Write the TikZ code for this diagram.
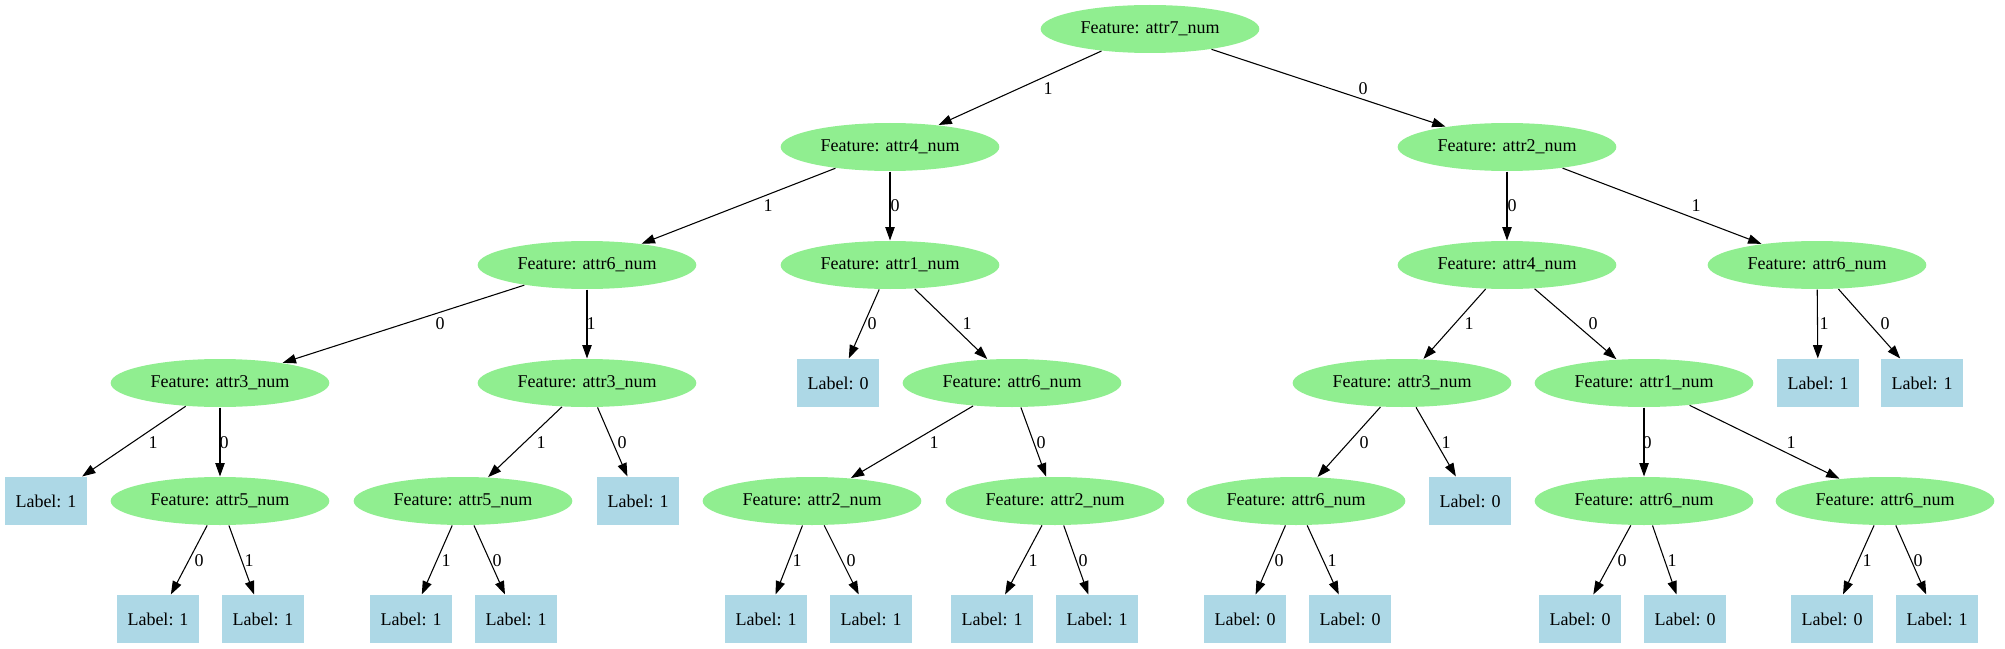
\documentclass[tikz,border=0pt]{standalone}
\usepackage{fontspec}
\setmainfont{Liberation Serif}
\usepackage{tikz}
\usetikzlibrary{shapes.geometric}
\usetikzlibrary{arrows.meta}

\definecolor{featgreen}{HTML}{90EE90}
\definecolor{leafblue}{HTML}{ADD8E6}

\begin{document}
\begin{tikzpicture}[x=0.75pt,y=-0.75pt,>={Triangle[length=10pt,width=7pt]},
    font=\fontsize{13.5}{16}\selectfont, line width=0.8pt,
    feat/.style={ellipse,fill=featgreen,minimum width=164pt,minimum height=36pt,inner sep=0pt},
    leaf/.style={rectangle,fill=leafblue,minimum width=61.5pt,minimum height=36pt,inner sep=0pt},
    lbl/.style={inner sep=0pt}]
    \useasboundingbox (0,0) rectangle (2005,649);

    % level 0 and 1
    \node (root) [feat] at (1150,29) {Feature: attr7\_num};
    \node (n1) [feat] at (890,147) {Feature: attr4\_num};
    \node (n0) [feat] at (1507,147) {Feature: attr2\_num};

    % level 2
    \node (n11) [feat] at (587,265) {Feature: attr6\_num};
    \node (n10) [feat] at (890,265) {Feature: attr1\_num};
    \node (n00) [feat] at (1507,265) {Feature: attr4\_num};
    \node (n01) [feat] at (1817,265) {Feature: attr6\_num};

    % level 3
    \node (n110) [feat] at (220,383) {Feature: attr3\_num};
    \node (n111) [feat] at (587,383) {Feature: attr3\_num};
    \node (n100) [leaf] at (838,383) {Label: 0};
    \node (n101) [feat] at (1012,383) {Feature: attr6\_num};
    \node (n001) [feat] at (1402,383) {Feature: attr3\_num};
    \node (n000) [feat] at (1644,383) {Feature: attr1\_num};
    \node (n011) [leaf] at (1818,383) {Label: 1};
    \node (n010) [leaf] at (1922,383) {Label: 1};

    % level 4
    \node (n1101) [leaf] at (46,501) {Label: 1};
    \node (n1100) [feat] at (220,501) {Feature: attr5\_num};
    \node (n1111) [feat] at (463,501) {Feature: attr5\_num};
    \node (n1110) [leaf] at (638,501) {Label: 1};
    \node (n1011) [feat] at (812,501) {Feature: attr2\_num};
    \node (n1010) [feat] at (1055,501) {Feature: attr2\_num};
    \node (n0010) [feat] at (1296,501) {Feature: attr6\_num};
    \node (n0011) [leaf] at (1470,501) {Label: 0};
    \node (n0000) [feat] at (1644,501) {Feature: attr6\_num};
    \node (n0001) [feat] at (1885,501) {Feature: attr6\_num};

    % level 5
    \node (n11000) [leaf] at (158,619) {Label: 1};
    \node (n11001) [leaf] at (263,619) {Label: 1};
    \node (n11111) [leaf] at (411,619) {Label: 1};
    \node (n11110) [leaf] at (516,619) {Label: 1};
    \node (n10111) [leaf] at (766,619) {Label: 1};
    \node (n10110) [leaf] at (871,619) {Label: 1};
    \node (n10101) [leaf] at (992,619) {Label: 1};
    \node (n10100) [leaf] at (1097,619) {Label: 1};
    \node (n00100) [leaf] at (1245,619) {Label: 0};
    \node (n00101) [leaf] at (1350,619) {Label: 0};
    \node (n00000) [leaf] at (1580,619) {Label: 0};
    \node (n00001) [leaf] at (1685,619) {Label: 0};
    \node (n00011) [leaf] at (1832,619) {Label: 0};
    \node (n00010) [leaf] at (1937,619) {Label: 1};

    \draw[->] (root) -- (n1) node[lbl] at (1048,89) {1};
    \draw[->] (root) -- (n0) node[lbl] at (1363,89) {0};
    \draw[->] (n1) -- (n11) node[lbl] at (768,206) {1};
    \draw[->] (n1) -- (n10) node[lbl] at (895,206) {0};
    \draw[->] (n0) -- (n00) node[lbl] at (1512,206) {0};
    \draw[->] (n0) -- (n01) node[lbl] at (1696,206) {1};

    \draw[->] (n11) -- (n110) node[lbl] at (440,324) {0};
    \draw[->] (n11) -- (n111) node[lbl] at (591,324) {1};
    \draw[->] (n10) -- (n100) node[lbl] at (872,324) {0};
    \draw[->] (n10) -- (n101) node[lbl] at (967,324) {1};
    \draw[->] (n00) -- (n001) node[lbl] at (1469,324) {1};
    \draw[->] (n00) -- (n000) node[lbl] at (1593,324) {0};
    \draw[->] (n01) -- (n011) node[lbl] at (1824,324) {1};
    \draw[->] (n01) -- (n010) node[lbl] at (1885,324) {0};

    \draw[->] (n110) -- (n1101) node[lbl] at (153,443) {1};
    \draw[->] (n110) -- (n1100) node[lbl] at (224,443) {0};
    \draw[->] (n111) -- (n1111) node[lbl] at (541,443) {1};
    \draw[->] (n111) -- (n1110) node[lbl] at (622,443) {0};
    \draw[->] (n101) -- (n1011) node[lbl] at (934,443) {1};
    \draw[->] (n101) -- (n1010) node[lbl] at (1041,443) {0};
    \draw[->] (n001) -- (n0010) node[lbl] at (1364,443) {0};
    \draw[->] (n001) -- (n0011) node[lbl] at (1446,443) {1};
    \draw[->] (n000) -- (n0000) node[lbl] at (1647,443) {0};
    \draw[->] (n000) -- (n0001) node[lbl] at (1791,443) {1};

    \draw[->] (n1100) -- (n11000) node[lbl] at (199,561) {0};
    \draw[->] (n1100) -- (n11001) node[lbl] at (249,561) {1};
    \draw[->] (n1111) -- (n11111) node[lbl] at (446,561) {1};
    \draw[->] (n1111) -- (n11110) node[lbl] at (497,561) {0};
    \draw[->] (n1011) -- (n10111) node[lbl] at (797,561) {1};
    \draw[->] (n1011) -- (n10110) node[lbl] at (851,561) {0};
    \draw[->] (n1010) -- (n10101) node[lbl] at (1033,561) {1};
    \draw[->] (n1010) -- (n10100) node[lbl] at (1083,561) {0};
    \draw[->] (n0010) -- (n00100) node[lbl] at (1279,561) {0};
    \draw[->] (n0010) -- (n00101) node[lbl] at (1332,561) {1};
    \draw[->] (n0000) -- (n00000) node[lbl] at (1622,561) {0};
    \draw[->] (n0000) -- (n00001) node[lbl] at (1672,561) {1};
    \draw[->] (n0001) -- (n00011) node[lbl] at (1867,561) {1};
    \draw[->] (n0001) -- (n00010) node[lbl] at (1918,561) {0};
\end{tikzpicture}
\end{document}
